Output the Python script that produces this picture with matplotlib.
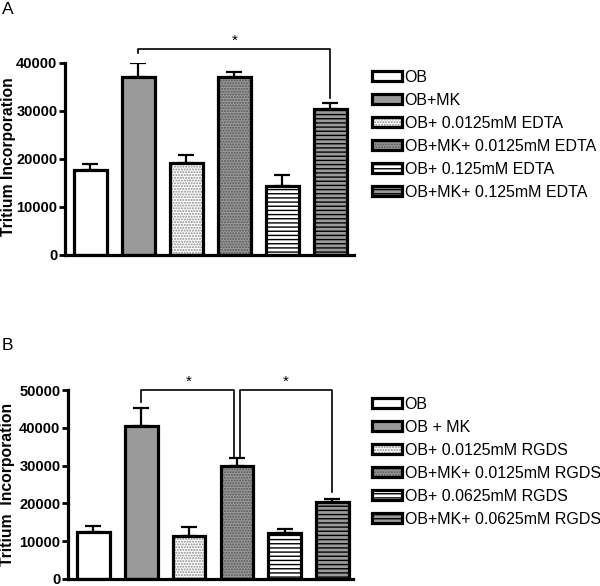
import numpy as np
import matplotlib
matplotlib.use("Agg")
import matplotlib.pyplot as plt
from matplotlib.legend_handler import HandlerTuple

plt.rcParams['font.family'] = ['Liberation Sans', 'DejaVu Sans']
plt.rcParams['hatch.linewidth'] = 1.0

# ---- data -------------------------------------------------------------------
labels_a = ['OB', 'OB+MK', 'OB+ 0.0125mM EDTA', 'OB+MK+ 0.0125mM EDTA',
            'OB+ 0.125mM EDTA', 'OB+MK+ 0.125mM EDTA']
mean_a = [17800, 37000, 19200, 37000, 14300, 30500]
sem_a  = [1100, 2900, 1700, 1100, 2300, 1200]

labels_b = ['OB', 'OB + MK', 'OB+ 0.0125mM RGDS', 'OB+MK+ 0.0125mM RGDS',
            'OB+ 0.0625mM RGDS', 'OB+MK+ 0.0625mM RGDS']
mean_b = [12400, 40600, 11500, 30000, 12300, 20300]
sem_b  = [1500, 4700, 2200, 2100, 1000, 900]

# style for each group: (facecolor, hatch, hatchcolor)
styles = [('white',   '',       'black'),
          ('#9a9a9a', '',       'black'),
          ('white',   '......', '#8a8a8a'),
          ('#9a9a9a', '......', '#555555'),
          ('white',   '----',   'black'),
          ('#9a9a9a', '----',   'black')]

# significance brackets: (x1, x2, y, drop_left, drop_right, star_x, star_y)
sig_a = [(2, 6, 42900, 42000, 32700, 4.0, 44600)]
sig_b = [(2, 3.94, 50000, 46700, 32200, 3.0, 52200),
         (4.06, 6, 50000, 32200, 23100, 5.03, 52200)]


def draw_panel(ax, means, sems, labels, ymax, step, xlim, sigs):
    x = np.arange(1, len(means) + 1)
    handles = []
    for i, (fc, hatch, hc) in enumerate(styles):
        fill = ax.bar(x[i], means[i], width=0.68, color=fc, hatch=hatch,
                      edgecolor=hc, linewidth=0, zorder=2)
        edge = ax.bar(x[i], means[i], width=0.68, fill=False,
                      edgecolor='black', linewidth=2.3, zorder=3)
        handles.append((fill[0], edge[0]))
    ax.errorbar(x, means, yerr=[np.zeros(len(sems)), sems], fmt='none',
                ecolor='black', elinewidth=1.6, capsize=6, capthick=1.6,
                zorder=1)

    for x1, x2, y, d1, d2, sx, sy in sigs:
        ax.plot([x1, x1, x2, x2], [d1, y, y, d2], color='black', lw=1.2,
                clip_on=False, zorder=4)
        ax.text(sx, sy, '*', ha='center', va='center', fontsize=11,
                clip_on=False)

    ax.set_xlim(*xlim)
    ax.set_ylim(0, ymax)
    ax.set_yticks(np.arange(0, ymax + 1, step))
    ax.set_xticks([])
    for s in ['top', 'right']:
        ax.spines[s].set_visible(False)
    for s in ['left', 'bottom']:
        ax.spines[s].set_linewidth(2.3)
    ax.tick_params(axis='y', length=4.5, width=2.0, pad=1, labelsize=10.5)
    for t in ax.get_yticklabels():
        t.set_fontweight('bold')
    ax.patch.set_alpha(0)
    return handles


fig = plt.figure(figsize=(6.0, 5.86), dpi=100)
W, H = 600., 586.

ax_a = fig.add_axes([65 / W, 1 - 255 / H, 289 / W, 192 / H])
ax_b = fig.add_axes([68 / W, 1 - 579 / H, 285 / W, 189 / H])

h_a = draw_panel(ax_a, mean_a, sem_a, labels_a, 40000, 10000, (0.47, 6.49), sig_a)
h_b = draw_panel(ax_b, mean_b, sem_b, labels_b, 50000, 10000, (0.467, 6.43), sig_b)

for handles, labels, top in [(h_a, labels_a, 70), (h_b, labels_b, 397)]:
    fig.legend(handles, labels, handler_map={tuple: HandlerTuple(ndivide=1)},
               loc='upper left', bbox_to_anchor=(372 / W, 1 - top / H),
               frameon=False, fontsize=11.5, borderpad=0, borderaxespad=0,
               handlelength=1.85, handleheight=0.6, handletextpad=0.2,
               labelspacing=0.5)

fig.text(9 / W, 1 - 157 / H, 'Tritium Incorporation', rotation=90,
         ha='center', va='center', fontsize=11.3, fontweight='bold')
fig.text(8 / W, 1 - 484 / H, 'Tritium  Incorporation', rotation=90,
         ha='center', va='center', fontsize=11.3, fontweight='bold')

fig.text(2 / W, 1 - 2 / H, 'A', ha='left', va='top', fontsize=12.5)
fig.text(2 / W, 1 - 338 / H, 'B', ha='left', va='top', fontsize=12.5)

fig.savefig('out.png', dpi=100)
